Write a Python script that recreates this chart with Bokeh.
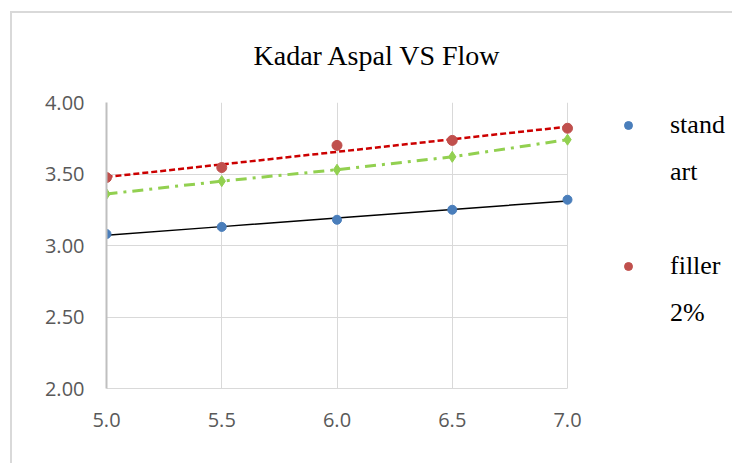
from bokeh.plotting import figure
from bokeh.models import (Range1d, FixedTicker, NumeralTickFormatter, Legend, LegendItem,
                          Title, InlineStyleSheet, BoxAnnotation)
from bokeh.embed import file_html
from bokeh.resources import INLINE
import numpy as np

flow = [5.0, 5.5, 6.0, 6.5, 7.0]
standart = [3.08, 3.13, 3.18, 3.25, 3.32]
filler_2 = [3.475, 3.545, 3.70, 3.735, 3.82]
green_series = [3.36, 3.45, 3.53, 3.62, 3.74]
x_ticks = [5.0, 5.5, 6.0, 6.5, 7.0]
y_ticks = [2.0, 2.5, 3.0, 3.5, 4.0]

# layout: plot area 106..567 px wide, frame extends to the right edge to host the legend
W, H = 732, 463
LEFT, PLOT_RIGHT, TOP, BOTTOM = 106, 567, 102, 75
x0, x1 = min(x_ticks), max(x_ticks)
x_end = x0 + (x1 - x0) * (W - LEFT) / (PLOT_RIGHT - LEFT)

p = figure(width=W, height=H, output_backend="svg", toolbar_location=None,
           x_range=Range1d(x0, x_end), y_range=Range1d(min(y_ticks), max(y_ticks)),
           min_border_left=LEFT, min_border_right=0, min_border_top=TOP, min_border_bottom=BOTTOM)
p.background_fill_color = "white"
p.border_fill_color = "white"
p.outline_line_color = None
p.stylesheets = [InlineStyleSheet(css="""
:host { position: relative; overflow: hidden; }
:host::after { content: ''; position: absolute; left: 10px; top: 11px; width: 760px; height: 500px;
  border: 2px solid #d9d9d9; pointer-events: none; box-sizing: border-box; }
""")]

p.xgrid.ticker = FixedTicker(ticks=x_ticks)
p.ygrid.ticker = FixedTicker(ticks=y_ticks)
p.grid.grid_line_color = "#d9d9d9"
# hide horizontal grid lines to the right of the plot area
mask = BoxAnnotation(left=x1, fill_color="white", fill_alpha=1, line_alpha=0, level="underlay")

# trendlines from the data
def trend(y):
    k, b = np.polyfit(flow, y, 1)
    return [k * x + b for x in flow]

p.line(flow, trend(standart), line_color="black", line_width=1.5)
p.line(flow, trend(filler_2), line_color="#cc0000", line_width=2.5, line_dash="6 3")
p.line(flow, green_series, line_color="#92d050", line_width=3, line_dash="11 6 3 6")
p.scatter(flow, green_series, marker="diamond", size=11, fill_color="#92d050", line_color="#92d050")
blue = p.scatter(flow, standart, marker="circle", size=9, fill_color="#4a7ebb", line_color="#4a7ebb")
red = p.scatter(flow, filler_2, marker="circle", size=10, fill_color="#c0504d", line_color="#c0504d")
ghost = p.scatter(flow, standart, marker="circle", size=1, fill_alpha=0, line_alpha=0)

p.xaxis.ticker = FixedTicker(ticks=x_ticks)
p.yaxis.ticker = FixedTicker(ticks=y_ticks)
p.xaxis.bounds = (x0, x1)
p.xaxis.formatter = NumeralTickFormatter(format="0.0")
p.yaxis.formatter = NumeralTickFormatter(format="0.00")
for ax in (p.xaxis, p.yaxis):
    ax.major_tick_line_color = None
    ax.minor_tick_line_color = None
    ax.major_label_text_font = "Open Sans"
    ax.major_label_text_font_size = "20px"
    ax.major_label_text_color = "#595959"
p.yaxis.axis_line_color = "#bfbfbf"
p.yaxis.axis_line_width = 2
p.xaxis.axis_line_color = "#d9d9d9"
p.yaxis.major_label_standoff = 16
p.xaxis.major_label_standoff = 18

p.title = Title(text="Kadar Aspal VS Flow", align="left", offset=147, standoff=64,
                text_font="Liberation Serif", text_font_size="28px", text_font_style="normal",
                text_color="black")

legend = Legend(items=[LegendItem(label="stand", renderers=[blue]),
                       LegendItem(label="art", renderers=[ghost]),
                       LegendItem(label=" ", renderers=[ghost]),
                       LegendItem(label="filler", renderers=[red]),
                       LegendItem(label="2%", renderers=[ghost])],
                location=(512, 60), margin=0, padding=0, spacing=17,
                glyph_width=20, glyph_height=30, label_height=30, label_standoff=32,
                label_text_font="Liberation Serif", label_text_font_size="26px",
                label_text_color="black", border_line_color=None, background_fill_alpha=0)

# grid order: horizontal grid, white mask, vertical grid (all underneath the data)
p.center = [p.ygrid[0], mask, p.xgrid[0], legend]

open("out.html", "w").write(file_html(p, INLINE))
